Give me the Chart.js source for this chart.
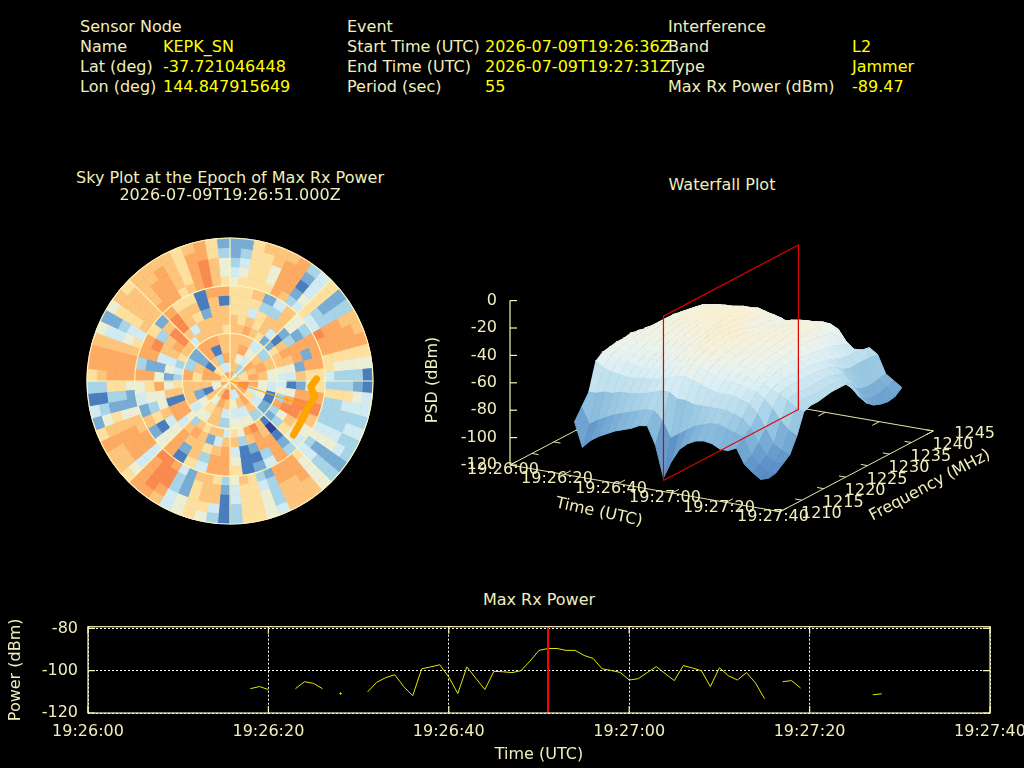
<!DOCTYPE html>
<html><head><meta charset="utf-8">
<script src="https://cdn.jsdelivr.net/npm/chart.js@4"></script>
<style>
html,body{margin:0;padding:0;background:#000;width:1024px;height:768px;overflow:hidden}
canvas{position:absolute;display:block}
.t{position:absolute;font:16px "DejaVu Sans",sans-serif;color:#f0eebc;white-space:pre;line-height:18px;transform:translateY(-9px)}
.v{color:#ffff00}.c{transform:translate(-50%,-9px)}
</style></head><body>
<canvas id="sky" width="300" height="300" style="left:80px;top:231px"></canvas>
<canvas id="skyGrid" width="300" height="300" style="left:80px;top:231px"></canvas>
<canvas id="skyTrack" width="300" height="300" style="left:80px;top:231px"></canvas>
<canvas id="fall" width="624" height="320" style="left:400px;top:220px"></canvas>
<canvas id="power" width="1024" height="158" style="left:0;top:610px"></canvas>
<script>
// ---------- header text ----------
const headerLabels=[["Sensor Node",80,27],["Name",80,47],["Lat (deg)",80,67],["Lon (deg)",80,87],["Event",347,27],["Start Time (UTC)",347,47],["End Time (UTC)",347,67],["Period (sec)",347,87],["Interference",668,27],["Band",668,47],["Type",668,67],["Max Rx Power (dBm)",668,87]];
const headerValues=[["KEPK_SN",163,47],["-37.721046448",163,67],["144.847915649",163,87],["2026-07-09T19:26:36Z",485,47],["2026-07-09T19:27:31Z",485,67],["55",485,87],["L2",852,47],["Jammer",852,67],["-89.47",852,87]];
const panelTitles=[["Sky Plot at the Epoch of Max Rx Power",230,178],["2026-07-09T19:26:51.000Z",230,195],["Waterfall Plot",722,185],["Max Rx Power",539,600]];
function addText(s,x,y,cls){const d=document.createElement('div');d.className='t '+cls;d.textContent=s;d.style.left=x+'px';d.style.top=y+'px';document.body.appendChild(d);}
headerLabels.forEach(a=>addText(a[0],a[1],a[2],''));
headerValues.forEach(a=>addText(a[0],a[1],a[2],'v'));
panelTitles.forEach(a=>addText(a[0],a[1],a[2],'c'));

Chart.defaults.font.family='"DejaVu Sans"';
Chart.defaults.font.size=16;
Chart.defaults.color='#f0eebc';
Chart.defaults.animation=false;
const INK='#f0eebc', FRAME='#f8f6b4';

// ---------- sky plot: one string per elevation ring (outer first), one code per azimuth cell ----------
const skyColors=['#33409a','#4a7dbd','#78acd4','#a8d4e8','#d2ebf3','#ecefd6','#fddf9e','#fdc47c','#fdab62','#f98b50'];
const skyRings=[
"226777 834623 778651 144343 323577 745663 135654 788677 862413 688752 576777 767862",
"236678 824623 788653 254343 423577 735663 146654 898577 875313 788742 677778 768863",
"346658 814623 888653 364334 523587 735664 177623 998488 876236 888743 677788 768975",
"456658 825633 888653 363334 524588 834664 277623 998488 875236 888754 677788 768975",
"566668 734644 988664 363334 534688 823675 367724 899488 775225 888764 777888 678976",
"6672 4753 8886 6897 5438 4216 8846 1852 7245 8388 6286 6188",
"6663 3752 8286 5898 6528 3115 8837 2851 6356 8289 3797 7171",
"6646 7723 8827 2899 7618 8214 8767 7854 7558 5247 7997 6277",
"7676 7417 8754 1589 5307 8737 7427 8748 8175 2547 8974 7777",
"7787 6226 7754 4538 3217 9856 4776 7358 8176 3436 7747 7776",
"774375412355375477832887",
"785787554744476527672817",
"754878846875785717881738",
"736984975864",
"847878748678"
].map(s=>s.replace(/ /g,''));
new Chart(document.getElementById('sky'),{type:'doughnut',
 data:{labels:skyRings[0].split('').map((c,i)=>i*5),
  datasets:skyRings.map(r=>({data:r.split('').map(()=>1),
    backgroundColor:r.split('').map(c=>skyColors[+c]),borderColor:r.split('').map(c=>skyColors[+c]),borderWidth:1,hoverOffset:0}))},
 options:{responsive:false,cutout:0,layout:{padding:6.5},plugins:{legend:{display:false},tooltip:{enabled:false}}}});

// ---------- sky grid ----------
const skyAngleLabels=['','','','','','','',''];
const skyElevationMax=90, skyElevationStep=30;
new Chart(document.getElementById('skyGrid'),{type:'radar',
 data:{labels:skyAngleLabels,datasets:[{data:[],pointRadius:0}]},
 options:{responsive:false,layout:{padding:7},plugins:{legend:{display:false},tooltip:{enabled:false}},
  scales:{r:{min:0,max:skyElevationMax,ticks:{display:false,stepSize:skyElevationStep},pointLabels:{display:false},
   grid:{circular:true,color:'#fbf5ba',lineWidth:1.2},angleLines:{color:'#fbf5ba',lineWidth:1.2}}}}});

// ---------- satellite / source track, east & north of zenith (deg) ----------
const trackEast=[54.5,50.8,52.5,53.5,49.3,46.2,43,39.9];
const trackNorth=[1.3,-3.6,-7.8,-9.2,-16.2,-22.4,-28.7,-34];
const rayEast=[0,46.2], rayNorth=[0,-15.1];
const zip=(a,b)=>a.map((x,i)=>({x,y:b[i]}));
new Chart(document.getElementById('skyTrack'),{type:'scatter',
 data:{datasets:[
  {data:zip(trackEast,trackNorth),showLine:true,borderColor:'#ffa500',borderWidth:7,pointRadius:0,borderCapStyle:'round',borderJoinStyle:'round'},
  {data:zip(rayEast,rayNorth),showLine:true,borderColor:'#ffa500',borderWidth:1.2,pointRadius:0}]},
 options:{responsive:false,layout:{padding:0},plugins:{legend:{display:false},tooltip:{enabled:false}},
  scales:{x:{display:false,min:-94.4,max:94.4},y:{display:false,min:-94.4,max:94.4}}}});

// ---------- waterfall: PSD (dBm) per time row (s after 19:26:00) and frequency column (MHz) ----------
const fallTimes=[18,21,24,27,30,33,36,39,42,45,48,51,54,57,60,63,66,69,72,75,78,81,84,87,90];
const fallFreqs=[1213.6,1215.2,1216.8,1218.4,1220,1221.6,1223.2,1224.8,1226.4,1228,1229.6,1231.2,1232.8,1234.4,1236,1237.6,1239.2,1240.8,1242.4,1244];
const fallPsd=[
[-88,-80,-72,-52,-48,-47,-46,-46,-45,-46,-47,-48,-48,-49,-50,-52,-54,-58,-64,-72],
[-106,-92,-72,-56,-50,-48,-47,-46,-45,-44,-44,-44,-44,-44,-45,-46,-47,-50,-56,-64],
[-100,-88,-70,-58,-52,-49,-47,-46,-45,-44,-43,-43,-42,-42,-42,-43,-44,-47,-52,-60],
[-96,-85,-70,-59,-53,-50,-48,-46,-45,-43,-42,-42,-41,-41,-41,-42,-43,-46,-51,-58],
[-93,-82,-68,-60,-54,-51,-48,-46,-44,-43,-42,-41,-40,-39,-39,-40,-42,-45,-50,-58],
[-90,-80,-68,-60,-55,-51,-49,-47,-45,-43,-42,-41,-40,-39,-39,-40,-42,-45,-50,-57],
[-88,-78,-67,-59,-54,-50,-48,-46,-44,-42,-41,-40,-39,-38,-38,-39,-41,-44,-49,-56],
[-86,-76,-66,-58,-53,-50,-47,-45,-43,-42,-40,-39,-38,-38,-38,-39,-40,-44,-49,-56],
[-83,-74,-64,-57,-52,-49,-46,-44,-42,-41,-40,-39,-38,-37,-37,-38,-40,-43,-48,-55],
[-82,-74,-62,-55,-50,-47,-44,-42,-41,-39,-38,-38,-38,-39,-40,-40,-41,-45,-50,-56],
[-95,-80,-62,-53,-48,-45,-42,-40,-39,-38,-38,-38,-39,-40,-41,-41,-43,-46,-51,-57],
[-118,-92,-66,-52,-46,-43,-41,-39,-38,-38,-38,-39,-41,-43,-44,-44,-46,-50,-54,-58],
[-105,-88,-66,-54,-47,-44,-42,-40,-39,-39,-39,-40,-42,-44,-45,-45,-46,-50,-54,-58],
[-95,-84,-68,-56,-49,-46,-44,-42,-41,-40,-40,-41,-41,-42,-42,-42,-44,-48,-52,-57],
[-90,-80,-68,-58,-52,-48,-46,-44,-43,-42,-41,-41,-41,-41,-41,-41,-43,-46,-50,-56],
[-87,-78,-68,-60,-54,-50,-48,-46,-45,-44,-42,-41,-41,-41,-41,-41,-43,-46,-51,-57],
[-86,-76,-68,-60,-54,-51,-48,-47,-45,-44,-43,-42,-41,-41,-40,-41,-42,-45,-49,-60],
[-87,-76,-68,-60,-55,-52,-49,-47,-46,-45,-44,-43,-43,-43,-43,-43,-44,-47,-52,-63],
[-90,-78,-70,-62,-57,-54,-51,-49,-48,-47,-46,-45,-45,-45,-46,-47,-48,-52,-60,-68],
[-90,-80,-72,-64,-58,-55,-53,-51,-50,-50,-50,-50,-51,-52,-53,-54,-56,-58,-65,-68],
[-87,-82,-78,-70,-62,-58,-56,-55,-55,-55,-55,-56,-57,-58,-60,-62,-63,-62,-64,-65],
[-98,-94,-88,-80,-68,-60,-58,-58,-58,-58,-58,-59,-60,-62,-66,-68,-68,-68,-68,-69],
[-103,-100,-96,-90,-76,-64,-62,-62,-62,-62,-62,-62,-64,-66,-78,-82,-84,-84,-83,-82],
[-107,-105,-100,-94,-82,-68,-65,-65,-65,-65,-65,-65,-68,-72,-84,-88,-90,-90,-88,-86],
[-105,-104,-100,-96,-85,-70,-68,-68,-67,-66,-66,-66,-72,-80,-88,-92,-94,-95,-94,-90]];
const timeTicks3d=[0,20,40,60,80,100];
const freqTicks3d=[1210,1215,1220,1225,1230,1235,1240,1245];
const psdTicks3d=[0,-20,-40,-60,-80,-100,-120];
const hms=s=>{const m=Math.floor(s/60);return '19:'+(26+m)+':'+String(s%60).padStart(2,'0');};
// 3D view of (time, frequency, PSD) onto the canvas plane
const view={x0:510,y0:465,tx:2.7,ty:0.467,fx:4.38,fy:-2.306,pz:-1.37};
function proj(t,f,p){return {x:view.x0+view.tx*t+view.fx*(f-1210),y:view.y0+view.ty*t+view.fy*(f-1210)+view.pz*(p+120)};}
const psdStops=[[-118,[70,120,184]],[-105,[88,140,196]],[-92,[110,162,208]],[-80,[140,190,222]],[-68,[180,218,235]],[-56,[218,239,246]],[-47,[236,243,236]],[-38,[249,240,212]]];
function psdColor(p){
 if(p<=psdStops[0][0])return `rgb(${psdStops[0][1]})`;
 for(let i=1;i<psdStops.length;i++){if(p<=psdStops[i][0]){const a=psdStops[i-1],b=psdStops[i],k=(p-a[0])/(b[0]-a[0]);
  return `rgb(${a[1].map((v,j)=>Math.round(v+(b[1][j]-v)*k))})`;}}
 return `rgb(${psdStops[psdStops.length-1][1]})`;
}
const seg=(pts,color,w)=>({data:pts,showLine:true,pointRadius:0,borderColor:color,borderWidth:w,fill:false});
const fallSets=[];
// red epoch plane on top
const epochT=51, epochF=[1213.6,1244.4];
fallSets.push(seg([proj(epochT,epochF[0],-120),proj(epochT,epochF[1],-120),proj(epochT,epochF[1],0),proj(epochT,epochF[0],0),proj(epochT,epochF[0],-120)],'#e00000',1.2));
// surface, nearest first because Chart.js paints the first dataset last
for(let j=0;j<fallFreqs.length-1;j++){
 for(let i=fallTimes.length-2;i>=0;i--){
  const a=fallPsd[i][j],b=fallPsd[i+1][j],c=fallPsd[i+1][j+1],d=fallPsd[i][j+1];
  const col=psdColor((a+b+c+d)/4);
  fallSets.push({data:[proj(fallTimes[i],fallFreqs[j],a),proj(fallTimes[i+1],fallFreqs[j],b),proj(fallTimes[i+1],fallFreqs[j+1],c),proj(fallTimes[i],fallFreqs[j+1],d)],
   showLine:true,pointRadius:0,fill:'shape',backgroundColor:col,borderColor:col,borderWidth:1});
 }
}
// base frame and ticks under the surface
fallSets.push(seg([proj(0,1210,-120),proj(100,1210,-120),proj(100,1245,-120),proj(0,1245,-120),proj(0,1210,-120)],'#e8e6a8',1));
fallSets.push(seg([proj(0,1210,-120),proj(0,1210,0)],FRAME,1.2));
timeTicks3d.forEach(t=>{fallSets.push(seg([proj(t,1210,-120),proj(t,1211.6,-120)],'#e8e6a8',1));fallSets.push(seg([proj(t,1245,-120),proj(t,1243.4,-120)],'#e8e6a8',1));});
freqTicks3d.forEach(f=>{fallSets.push(seg([proj(100,f,-120),proj(97.5,f,-120)],'#e8e6a8',1));fallSets.push(seg([proj(0,f,-120),proj(2.5,f,-120)],'#e8e6a8',1));});
psdTicks3d.forEach(p=>{const a=proj(0,1210,p);fallSets.push(seg([a,{x:a.x+7,y:a.y}],FRAME,1.2));});
const label3d={id:'label3d',afterDraw(c){
 const X=c.scales.x,Y=c.scales.y,g=c.ctx;g.save();g.fillStyle=INK;g.font='16px "DejaVu Sans"';g.textBaseline='middle';
 const put=(s,x,y,al,rot)=>{g.save();g.translate(X.getPixelForValue(x),Y.getPixelForValue(y));g.rotate((rot||0)*Math.PI/180);g.textAlign=al;g.fillText(s,0,0);g.restore();};
 psdTicks3d.forEach(p=>{const a=proj(0,1210,p);put(String(p),a.x-13,a.y,'right');});
 timeTicks3d.forEach(t=>{const a=proj(t,1210,-120);put(hms(t),a.x-7,a.y+5,'center');});
 freqTicks3d.forEach(f=>{const a=proj(100,f,-120);put(String(f),a.x+21,a.y+2.5,'left');});
 put('PSD (dBm)',433,380,'center',-90);
 put('Time (UTC)',599,512.5,'center',12);
 put('Frequency (MHz)',930,485.5,'center',-28);
 g.restore();}};
new Chart(document.getElementById('fall'),{type:'scatter',data:{datasets:fallSets},plugins:[label3d],
 options:{responsive:false,layout:{padding:0},plugins:{legend:{display:false},tooltip:{enabled:false}},
  scales:{x:{display:false,min:400,max:1024},y:{display:false,min:220,max:540,reverse:true}}}});

// ---------- max rx power strip ----------
const powerStart=18;
const powerDbm=[-108.5,-107.5,-108.9,null,null,-108.5,-105.2,-106,-108.5,null,-110.8,null,null,-110,-105.5,-103.3,-101.9,-107.5,-111.8,-99.1,-98.2,-97.2,-103,-110.8,-98.2,-103.6,-108.9,-100.3,-100.5,-100.9,-100,-95.5,-90.4,-89.5,-89.5,-90.4,-90.4,-92.8,-94.2,-99.1,-99.9,-100.8,-104.4,-103.8,-100.9,-98.1,-101.4,-104.7,-97.6,-98.7,-100,-107.5,-98.6,-102.4,-104.4,-100.9,-105.8,-113.2,null,-105.2,-104.7,-108.2,null,null,null,null,null,null,null,-111.4,-110.9];
const epochLine=[{x:51,y:-120},{x:51,y:-79.2}];
const frame={id:'frame',afterDatasetsDraw(c){const a=c.chartArea,g=c.ctx,X=c.scales.x,Y=c.scales.y;g.save();g.strokeStyle=FRAME;g.lineWidth=1.2;g.strokeRect(a.left,a.top,a.right-a.left,a.bottom-a.top);g.beginPath();
 X.ticks.forEach(t=>{const x=X.getPixelForValue(t.value);g.moveTo(x,a.bottom);g.lineTo(x,a.bottom-7);g.moveTo(x,a.top);g.lineTo(x,a.top+7);});
 Y.ticks.forEach(t=>{const y=Y.getPixelForValue(t.value);g.moveTo(a.left,y);g.lineTo(a.left+7,y);g.moveTo(a.right,y);g.lineTo(a.right-7,y);});
 g.stroke();g.restore();}};
new Chart(document.getElementById('power'),{type:'scatter',
 data:{datasets:[
  {data:epochLine,showLine:true,borderColor:'#ff0000',borderWidth:2,pointRadius:0},
  {data:powerDbm.map((y,i)=>({x:powerStart+i,y})),showLine:true,spanGaps:false,borderColor:'#e6e600',borderWidth:1,backgroundColor:'#e6e600',
   pointRadius:c=>{const v=powerDbm,i=c.dataIndex;return v[i]!=null&&v[i-1]==null&&v[i+1]==null?0.7:0;}}]},
 plugins:[frame],
 options:{responsive:false,layout:{padding:{top:16.7,right:34,bottom:0,left:0}},plugins:{legend:{display:false},tooltip:{enabled:false}},
  scales:{
   x:{type:'linear',min:0,max:100,afterFit(s){s.height=55;s.paddingLeft=0;s.paddingRight=0;},
      ticks:{stepSize:20,autoSkip:false,maxRotation:0,color:INK,padding:9,callback:v=>hms(v)},
      grid:{color:'#ffffff',lineWidth:1,tickLength:0},border:{dash:[2,2],display:false,color:FRAME},
      title:{display:true,text:'Time (UTC)',color:INK,padding:{top:4,bottom:4}}},
   y:{min:-120,max:-79.2,afterFit(s){s.width=88;s.paddingTop=0;s.paddingBottom=0;},
      ticks:{stepSize:20,includeBounds:false,color:INK,padding:10},
      grid:{color:'#ffffff',lineWidth:1,tickLength:0},border:{dash:[2,2],display:false},
      title:{display:true,text:'Power (dBm)',color:INK,padding:{top:6,bottom:0}}}
  }}});
</script></body></html>
